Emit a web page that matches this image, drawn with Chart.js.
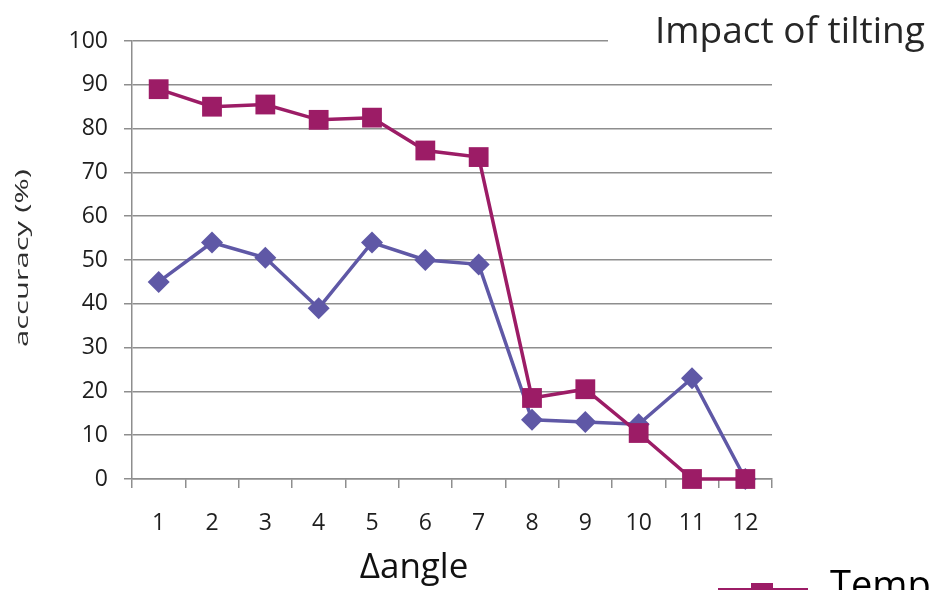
<!DOCTYPE html>
<html>
<head>
<meta charset="utf-8">
<script src="https://cdn.jsdelivr.net/npm/chart.js@4/dist/chart.umd.min.js"></script>
<style>
  html, body { margin: 0; padding: 0; background: #fff; }
  #wrap { width: 932px; height: 590px; position: relative; overflow: hidden; }
</style>
</head>
<body>
<div id="wrap"><canvas id="c" width="932" height="590"></canvas></div>
<script>
// Angle difference steps on the x axis
const angleSteps = ['1', '2', '3', '4', '5', '6', '7', '8', '9', '10', '11', '12'];
// Accuracy (%) per step for each method
const templateAccuracy = [89, 85, 85.5, 82, 82.5, 75, 73.5, 18.5, 20.5, 10.5, 0, 0];
const otherAccuracy = [45, 54, 50.5, 39, 54, 50, 49, 13.5, 13, 12.5, 23, 0];
// Y axis range and step
const yMin = 0;
const yMax = 100;
const yStep = 10;

const chartTitle = 'Impact of tilting';
const xTitle = '\u0394angle';
const yTitle = 'accuracy (%)';
const templateName = 'Template matching';
const otherName = 'Feature matching';

const MAGENTA = '#9c1c66';
const PURPLE = '#5f58a6';
const GRID = '#8e8e8e';
const FONT = '"Open Sans", "DejaVu Sans", sans-serif';

// Extra text: title, axis titles and the legend entry
const textPlugin = {
  id: 'textPlugin',
  afterDraw(chart) {
    const ctx = chart.ctx;
    ctx.save();
    // title panel sits over the top grid line
    ctx.fillStyle = '#ffffff';
    ctx.fillRect(608, 0, 324, 62);
    ctx.fillStyle = '#262626';
    ctx.font = '37px ' + FONT;
    ctx.textAlign = 'left';
    ctx.textBaseline = 'alphabetic';
    ctx.fillText(chartTitle, 655, 43);

    // x axis title
    ctx.fillStyle = '#111111';
    ctx.font = '35px ' + FONT;
    ctx.textAlign = 'center';
    ctx.fillText(xTitle, 414, 578);

    // y axis title, stretched along its length
    ctx.save();
    ctx.font = '18px ' + FONT;
    ctx.fillStyle = '#2e2e2e';
    const w = ctx.measureText(yTitle).width;
    ctx.translate(28, 258);
    ctx.rotate(-Math.PI / 2);
    ctx.scale(178 / w, 1.05);
    ctx.textAlign = 'center';
    ctx.textBaseline = 'alphabetic';
    ctx.fillText(yTitle, 0, 0);
    ctx.restore();

    // legend entry for the first dataset
    const ds = chart.data.datasets[0];
    ctx.strokeStyle = ds.borderColor;
    ctx.lineWidth = 4;
    ctx.beginPath();
    ctx.moveTo(718, 590);
    ctx.lineTo(808, 590);
    ctx.stroke();
    ctx.fillStyle = ds.backgroundColor;
    ctx.fillRect(762 - 11, 594 - 11, 22, 22);
    ctx.fillStyle = '#000000';
    ctx.font = '38px ' + FONT;
    ctx.textAlign = 'left';
    ctx.fillText(ds.label, 830, 598);
    ctx.restore();
  }
};

new Chart(document.getElementById('c'), {
  type: 'line',
  data: {
    labels: angleSteps,
    datasets: [
      {
        label: templateName,
        data: templateAccuracy,
        borderColor: MAGENTA,
        backgroundColor: MAGENTA,
        borderWidth: 3.5,
        pointStyle: 'rect',
        pointRadius: 14,
        pointHoverRadius: 14,
        pointBorderWidth: 0,
        tension: 0,
        clip: false
      },
      {
        label: otherName,
        data: otherAccuracy,
        borderColor: PURPLE,
        backgroundColor: PURPLE,
        borderWidth: 3.5,
        pointStyle: 'rectRot',
        pointRadius: 11,
        pointHoverRadius: 11,
        pointBorderWidth: 0,
        tension: 0,
        clip: false
      }
    ]
  },
  options: {
    responsive: false,
    animation: false,
    devicePixelRatio: 1,
    layout: { padding: { top: 41, right: 160, left: 0, bottom: 0 } },
    plugins: {
      legend: { display: false },
      title: { display: false },
      tooltip: { enabled: false }
    },
    scales: {
      x: {
        type: 'category',
        offset: true,
        grid: {
          display: true,
          drawOnChartArea: false,
          drawTicks: true,
          offset: true,
          tickLength: 9,
          color: GRID,
          lineWidth: 1.5
        },
        border: { display: true, color: GRID, width: 1.5 },
        ticks: {
          color: '#1e1e1e',
          font: { family: FONT, size: 23 },
          padding: 22,
          maxRotation: 0
        },
        afterFit(scale) { scale.height = 111; }
      },
      y: {
        min: yMin,
        max: yMax,
        grid: {
          color: GRID,
          lineWidth: 1.5,
          tickLength: 8
        },
        border: { display: true, color: GRID, width: 1.5 },
        ticks: {
          stepSize: yStep,
          color: '#1e1e1e',
          font: { family: FONT, size: 23 },
          padding: 16
        },
        afterFit(scale) { scale.width = 132; }
      }
    }
  },
  plugins: [textPlugin]
});
</script>
</body>
</html>
